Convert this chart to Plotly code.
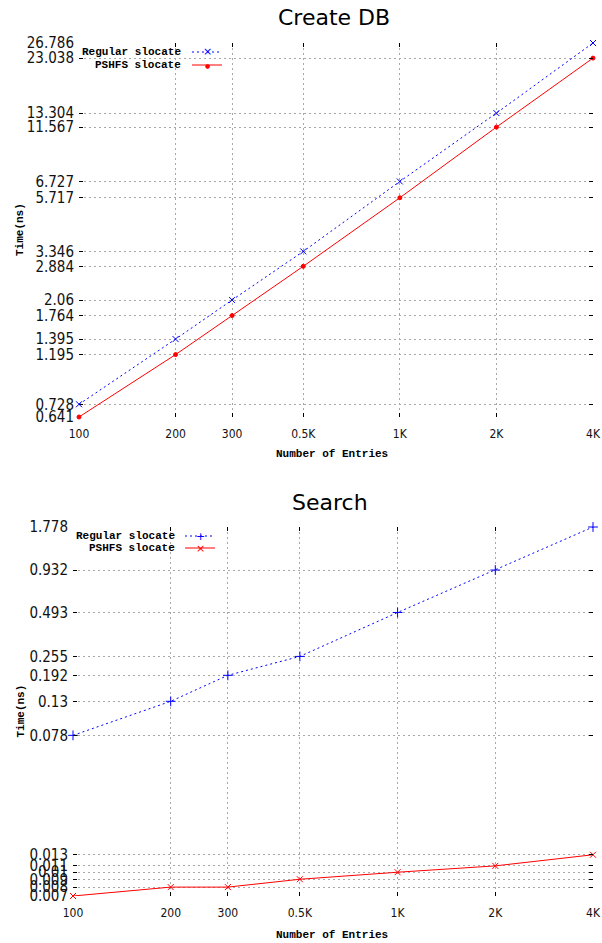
import numpy as np
import plotly.graph_objects as go

# ---- data ----
entries = [100, 200, 300, 500, 1000, 2000, 4000]
entry_labels = ["100", "200", "300", "0.5K", "1K", "2K", "4K"]

create_regular = [0.728, 1.395, 2.06, 3.346, 6.727, 13.304, 26.786]
create_pshfs = [0.641, 1.195, 1.764, 2.884, 5.717, 11.567, 23.038]

search_regular = [0.078, 0.13, 0.192, 0.255, 0.493, 0.932, 1.778]
search_pshfs = [0.007, 0.008, 0.008, 0.009, 0.010, 0.011, 0.013]

series_names = ["Regular slocate", "PSHFS slocate"]
titles = ["Create DB", "Search"]
x_title = "Number of Entries"
y_title = "Time(ns)"

W, H = 602, 943
BLUE = "#0000ff"
RED = "#ff0000"
GRID = "#a8a8a8"
TICKFONT = dict(family="DejaVu Sans Condensed, DejaVu Sans", size=15, color="#111")
XTICKFONT = dict(family="DejaVu Sans Condensed, DejaVu Sans", size=12, color="#111")
MONO = dict(family="Liberation Mono, DejaVu Sans Mono, monospace", size=11, color="#000")


def px(x):
    return x / W


def py(y):
    return 1 - y / H


fig = go.Figure()

# plot areas (window pixels): left, right, top, bottom
areas = [(79, 593, 43, 417), (73, 593, 527, 896)]
data = [(create_regular, create_pshfs), (search_regular, search_pshfs)]
symbols = [("x-thin-open", "circle"), ("cross-thin-open", "x-thin-open")]
msizes = [(6, 4), (7, 6)]

for i, ((l, r, t, b), (reg, psh), (s1, s2), (m1, m2)) in enumerate(zip(areas, data, symbols, msizes)):
    xa = "x" if i == 0 else "x2"
    ya = "y" if i == 0 else "y2"
    fig.add_trace(go.Scatter(
        x=entries, y=reg, xaxis=xa, yaxis=ya, mode="lines+markers",
        name=series_names[0], showlegend=False, cliponaxis=False,
        line=dict(color=BLUE, width=1, dash="2px,3px"),
        marker=dict(symbol=s1, size=m1, color=BLUE, line=dict(color=BLUE, width=1)),
    ))
    fig.add_trace(go.Scatter(
        x=entries, y=psh, xaxis=xa, yaxis=ya, mode="lines+markers",
        name=series_names[1], showlegend=False, cliponaxis=False,
        line=dict(color=RED, width=1),
        marker=dict(symbol=s2, size=m2, color=RED, line=dict(color=RED, width=1)),
    ))
    yvals = sorted(set(reg) | set(psh))
    ytext = [("%g" % v) for v in yvals]
    axis_common = dict(
        type="log", showgrid=True, gridcolor=GRID, griddash="2px,3px", gridwidth=1,
        zeroline=False, showline=False, ticks="inside", ticklen=4,
        tickcolor="#000", mirror="ticks", automargin=False,
        ticklabeloverflow="allow",
    )
    xaxis = dict(
        axis_common, domain=[px(l), px(r)],
        range=[np.log10(min(entries)), np.log10(max(entries))],
        tickvals=entries, ticktext=entry_labels, tickfont=XTICKFONT,
        ticklabelstandoff=8, anchor=ya,
    )
    yaxis = dict(
        axis_common, domain=[py(b), py(t)],
        range=[np.log10(min(psh)), np.log10(max(reg))],
        tickvals=yvals, ticktext=ytext, tickfont=TICKFONT,
        ticklabelstandoff=4, anchor=xa,
    )
    if i == 0:
        fig.update_layout(xaxis=xaxis, yaxis=yaxis)
    else:
        fig.update_layout(xaxis2=xaxis, yaxis2=yaxis)

annotations = []
shapes = []
# titles & axis titles
title_pos = [(334, 18), (330, 502)]
xtitle_y = [454, 935]
for i, ((l, r, t, b), (tx, ty)) in enumerate(zip(areas, title_pos)):
    annotations.append(dict(text=titles[i], x=px(tx), y=py(ty), xref="paper", yref="paper",
                            showarrow=False, xanchor="center", yanchor="middle",
                            font=dict(family="DejaVu Sans", size=22, color="#000")))
    annotations.append(dict(text="<b>%s</b>" % x_title, x=px(332), y=py(xtitle_y[i]),
                            xref="paper", yref="paper", showarrow=False,
                            xanchor="center", yanchor="middle", font=MONO))
    annotations.append(dict(text="<b>%s</b>" % y_title, x=px(20), y=py((t + b) / 2),
                            xref="paper", yref="paper", showarrow=False, textangle=-90,
                            xanchor="center", yanchor="middle", font=MONO))

# custom legends (text right-aligned, key sample on the right)
legend_specs = [
    dict(text_right=183, line=(192, 222), rows=(52, 65), glyphs=("×", "●"), gsize=(11, 6)),
    dict(text_right=177, line=(185, 215), rows=(536, 548), glyphs=("+", "×"), gsize=(11, 11)),
]
colors = [BLUE, RED]
dashes = ["2px,3px", "solid"]
for spec in legend_specs:
    for k in range(2):
        yy = spec["rows"][k]
        annotations.append(dict(text="<b>%s</b>" % series_names[k], x=px(spec["text_right"]),
                                y=py(yy), xref="paper", yref="paper", showarrow=False,
                                xanchor="right", yanchor="middle", font=MONO))
        x0, x1 = spec["line"]
        shapes.append(dict(type="line", xref="paper", yref="paper", x0=px(x0), x1=px(x1),
                           y0=py(yy), y1=py(yy),
                           line=dict(color=colors[k], width=1, dash=dashes[k])))
        annotations.append(dict(text=spec["glyphs"][k], x=px((x0 + x1) / 2), y=py(yy),
                                xref="paper", yref="paper", showarrow=False,
                                xanchor="center", yanchor="middle",
                                font=dict(family="DejaVu Sans", size=spec["gsize"][k], color=colors[k])))

fig.update_layout(
    width=W, height=H, margin=dict(l=0, r=0, t=0, b=0, pad=0),
    paper_bgcolor="white", plot_bgcolor="white",
    annotations=annotations, shapes=shapes, showlegend=False,
)

fig.write_html(
    "out.html",
    config={"displayModeBar": False},
    post_script="document.body.style.margin='0';document.body.style.overflow='hidden';",
)
